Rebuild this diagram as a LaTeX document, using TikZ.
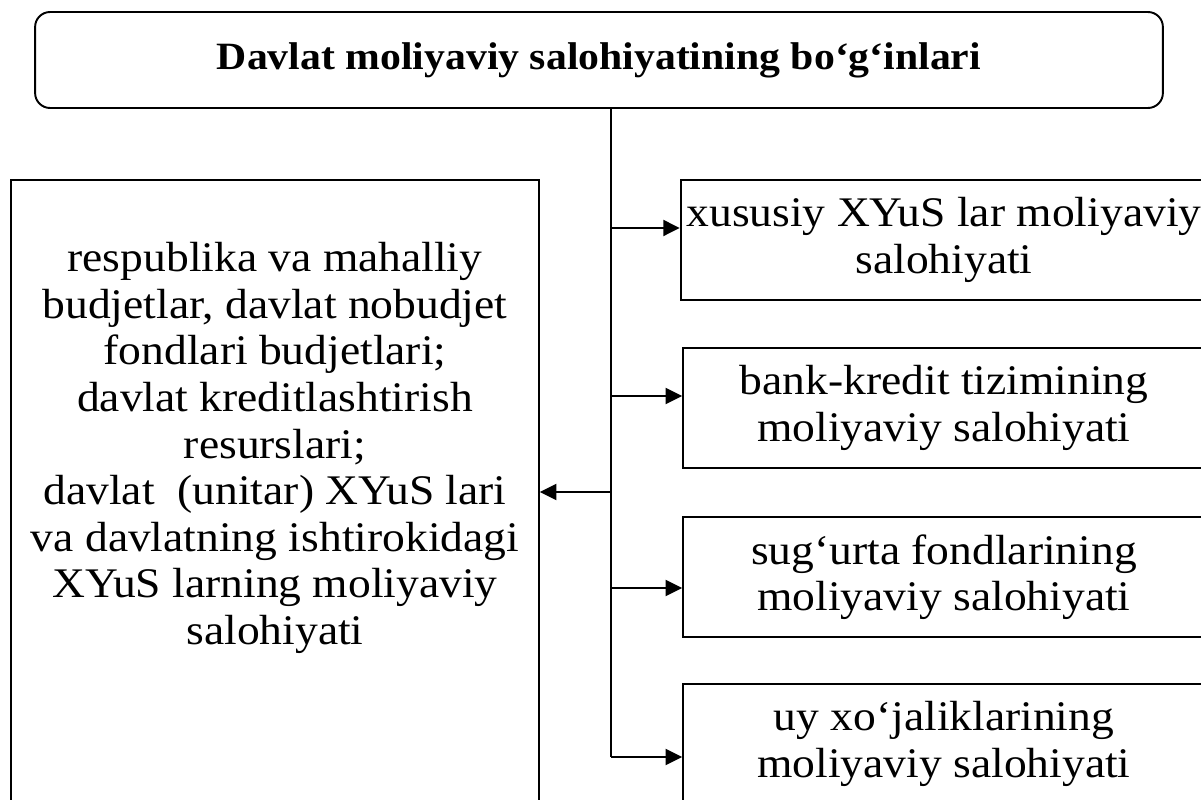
\documentclass[tikz,border=0pt]{standalone}
\usepackage{fontspec}
\setmainfont{Liberation Serif}[FakeStretch=1.08]
\usetikzlibrary{arrows.meta,positioning,calc}
\tikzset{
  headbox/.style={draw,rounded corners=8.5pt,line width=1.1pt,
    minimum width=22.56cm,minimum height=1.92cm,
    font=\bfseries\fontsize{22}{26}\selectfont},
  leftbox/.style={draw,line width=1.1pt,minimum width=10.56cm,minimum height=13cm},
  branch/.style={draw,line width=1.1pt,align=center,
    minimum width=10.44cm,minimum height=2.4cm,
    font=\fontsize{24}{26.5}\selectfont},
  bodytext/.style={align=center,font=\fontsize{24}{26.5}\selectfont},
  arrow/.style={-{Triangle[length=0.33cm,width=0.32cm]},line width=1.1pt},
  spine/.style={line width=1.1pt}
}
\begin{document}
\begin{tikzpicture}[x=0.02cm,y=-0.02cm]
  \useasboundingbox (0,0) rectangle (1201,800);
  \clip (0,0) rectangle (1201,800);
  % top
  \node[headbox] (head) at (599,60) {Davlat moliyaviy salohiyatining bo‘g‘inlari};
  % left
  \node[leftbox] (lft) at (275,505) {};
  \node[bodytext] (lfttxt) at (275,448) {respublika va mahalliy\\
    budjetlar, davlat nobudjet\\
    fondlari budjetlari;\\
    davlat kreditlashtirish\\
    resurslari;\\
    davlat\ \ (unitar) XYuS lari\\
    va davlatning ishtirokidagi\\
    XYuS larning moliyaviy\\
    salohiyati};
  % right
  \node[branch] (b1) at (944,240) {xususiy XYuS lar moliyaviy\\ salohiyati};
  \node[branch] (b2) at (944,408) {bank-kredit tizimining\\ moliyaviy salohiyati};
  \node[branch] (b3) at (944,577) {sug‘urta fondlarining\\ moliyaviy salohiyati};
  \node[branch] (b4) at (944,744) {uy xo‘jaliklarining\\ moliyaviy salohiyati};
  % spine
  \coordinate (s0) at ($(head.south)+(12,0)$);
  \coordinate (s1) at (611,228);
  \coordinate (s2) at (611,396);
  \coordinate (sl) at (611,492);
  \coordinate (s3) at (611,588);
  \coordinate (s4) at (611,757);
  \draw[spine] (s0) -- (s4);
  \draw[arrow] (s1) -- (s1 -| b1.west);
  \draw[arrow] (s2) -- (s2 -| b2.west);
  \draw[arrow] (s3) -- (s3 -| b3.west);
  \draw[arrow] (s4) -- (s4 -| b4.west);
  \draw[arrow] (sl) -- (sl -| lft.east);
\end{tikzpicture}
\end{document}
